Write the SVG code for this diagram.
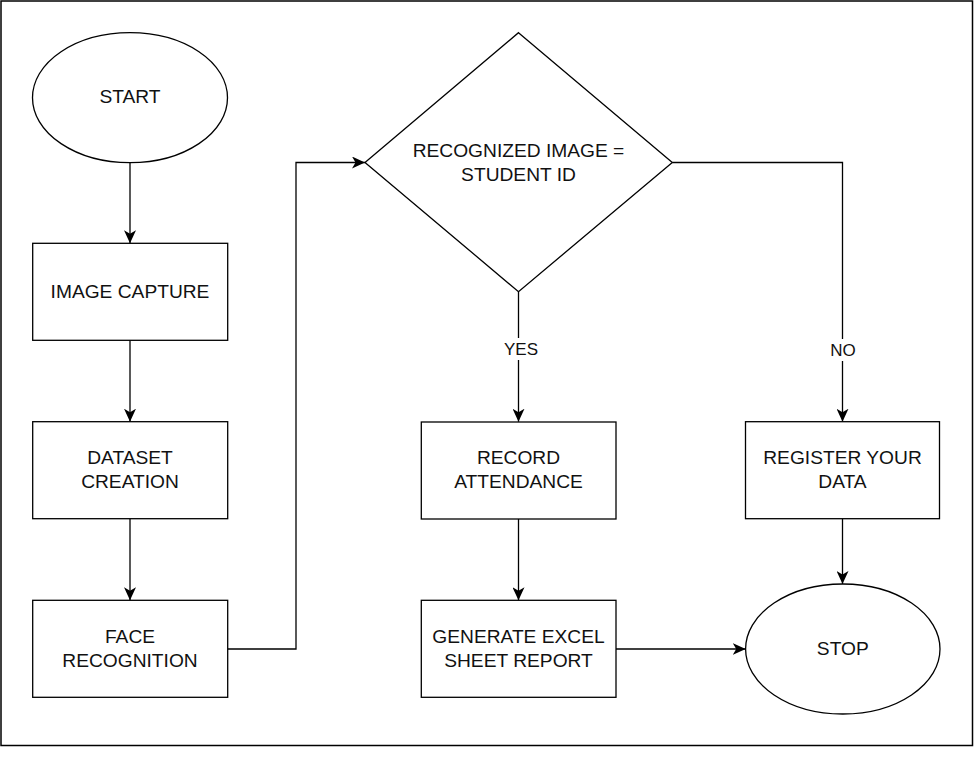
<svg xmlns="http://www.w3.org/2000/svg" width="974" height="762" viewBox="0 0 974 762">
<style>
.shape{fill:#fff;stroke:#000;stroke-width:1.3}
.edge{fill:none;stroke:#000;stroke-width:1.3}
.t{font-family:"Liberation Sans",Arial,sans-serif;font-size:19.2px;fill:#111;text-anchor:middle}
.lbl{font-family:"Liberation Sans",Arial,sans-serif;font-size:17px;fill:#111;text-anchor:middle}
</style>
<defs>
<marker id="arr" viewBox="0 0 13 12" refX="13" refY="6" markerWidth="13" markerHeight="12" markerUnits="userSpaceOnUse" orient="auto">
<path d="M0,0 L13,6 L0,12 L3.5,6 Z" fill="#000"/>
</marker>
</defs>
<rect x="0" y="0" width="974" height="762" fill="#fff"/>
<rect x="1" y="1" width="971.5" height="744.5" fill="none" stroke="#000" stroke-width="1.5"/>
<g id="connectors">
<path class="edge" d="M130,162.7 L130,243.3" marker-end="url(#arr)"/>
<path class="edge" d="M130,340.3 L130,421.7" marker-end="url(#arr)"/>
<path class="edge" d="M130,518.7 L130,600.3" marker-end="url(#arr)"/>
<path class="edge" d="M227.7,649 L296,649 L296,162.5 L365,162.5" marker-end="url(#arr)"/>
<path class="edge" d="M518.5,291.7 L518.5,421.7" marker-end="url(#arr)"/>
<path class="edge" d="M672.3,162.5 L842.5,162.5 L842.5,421.7" marker-end="url(#arr)"/>
<path class="edge" d="M518.5,519 L518.5,600.3" marker-end="url(#arr)"/>
<path class="edge" d="M842.5,518.7 L842.5,584" marker-end="url(#arr)"/>
<path class="edge" d="M616,649 L745.7,649" marker-end="url(#arr)"/>
<rect x="503" y="338" width="37" height="22" fill="#fff"/>
<text class="lbl" x="521" y="355">YES</text>
<rect x="828" y="339" width="29" height="22" fill="#fff"/>
<text class="lbl" x="843" y="356">NO</text>
</g>
<g id="start">
<ellipse class="shape" cx="130" cy="97.7" rx="97.5" ry="65"/>
<text class="t" x="130" y="103">START</text>
</g>
<g id="image-capture">
<rect class="shape" x="32.7" y="243.3" width="195" height="97"/>
<text class="t" x="130" y="297.5">IMAGE CAPTURE</text>
</g>
<g id="dataset-creation">
<rect class="shape" x="32.7" y="421.7" width="195" height="97"/>
<text class="t" x="130" y="464">DATASET</text>
<text class="t" x="130" y="488">CREATION</text>
</g>
<g id="face-recognition">
<rect class="shape" x="32.7" y="600.3" width="195" height="97"/>
<text class="t" x="130" y="642.5">FACE</text>
<text class="t" x="130" y="666.5">RECOGNITION</text>
</g>
<g id="decision">
<path class="shape" d="M518.5,32.7 L672.3,162.5 L518.5,291.7 L365,162.5 Z"/>
<text class="t" x="518.5" y="157">RECOGNIZED IMAGE =</text>
<text class="t" x="518.5" y="181">STUDENT ID</text>
</g>
<g id="record-attendance">
<rect class="shape" x="421.3" y="422" width="194.7" height="97"/>
<text class="t" x="518.5" y="464.3">RECORD</text>
<text class="t" x="518.5" y="488.3">ATTENDANCE</text>
</g>
<g id="generate-report">
<rect class="shape" x="421.3" y="600.3" width="194.7" height="97"/>
<text class="t" x="518.5" y="642.5">GENERATE EXCEL</text>
<text class="t" x="518.5" y="666.5">SHEET REPORT</text>
</g>
<g id="register">
<rect class="shape" x="745.5" y="421.7" width="194" height="97"/>
<text class="t" x="842.5" y="464">REGISTER YOUR</text>
<text class="t" x="842.5" y="488">DATA</text>
</g>
<g id="stop">
<ellipse class="shape" cx="842.8" cy="649" rx="97.2" ry="65"/>
<text class="t" x="842.8" y="654.5">STOP</text>
</g>
</svg>
